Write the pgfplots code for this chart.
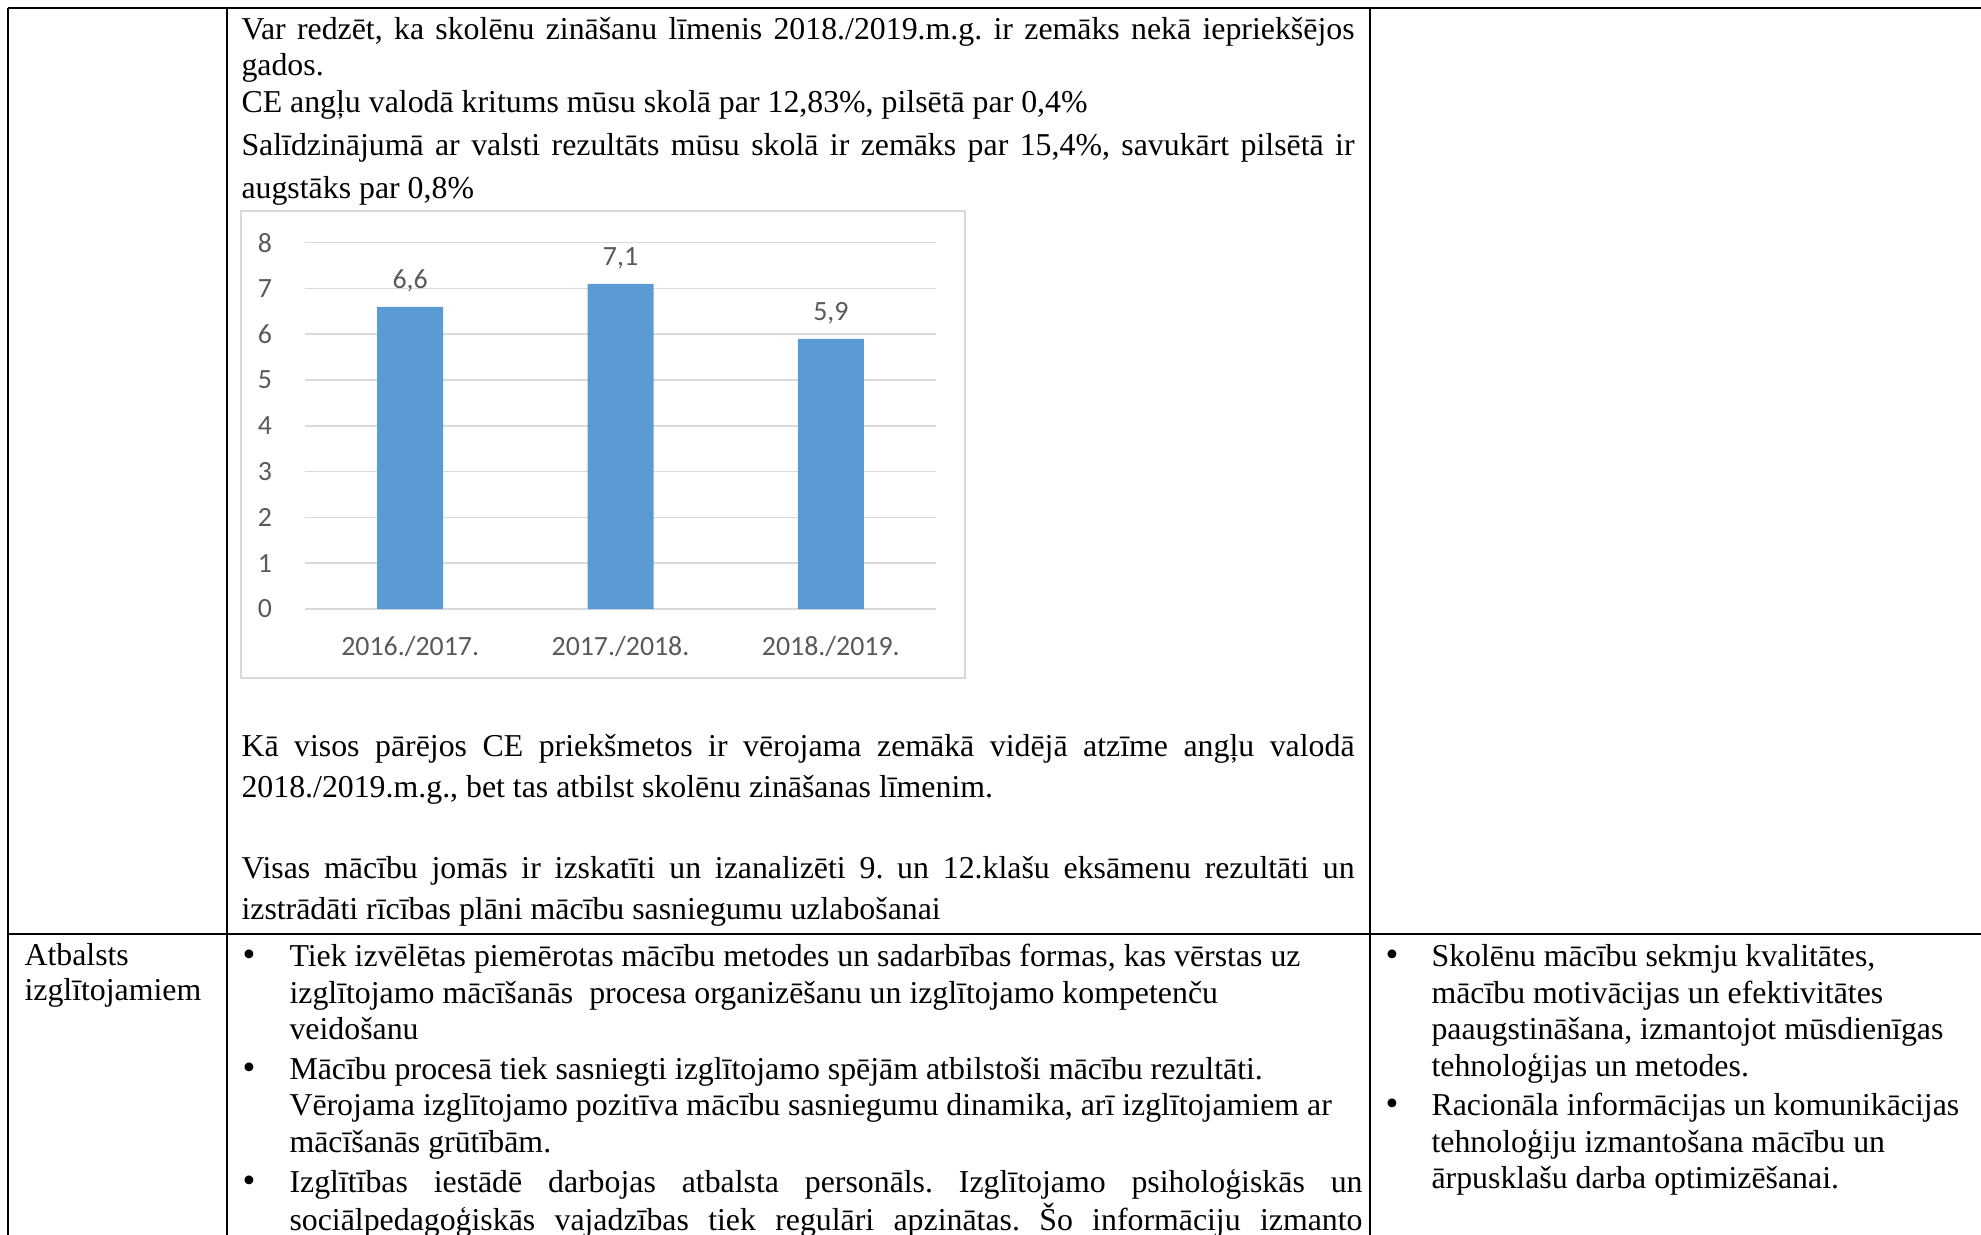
\documentclass[border=0pt]{standalone}
\usepackage{fontspec}
\setmainfont{Liberation Serif}
\newfontfamily\calibri{Carlito}
\usepackage{pgfplots}
\pgfplotsset{compat=1.18}
\definecolor{barblue}{HTML}{5B9BD5}
\definecolor{txtgray}{HTML}{595959}
\definecolor{gridgray}{HTML}{D9D9D9}
\newcommand{\tl}[3]{\node[anchor=base west,inner sep=0pt] at (#1,#2+3) {#3};}
\newcommand{\jl}[4]{\node[anchor=base west,inner sep=0pt] at (#1,#2+3) {\makebox[#3][s]{#4}};}
\newcommand{\bu}[2]{\node[anchor=base west,inner sep=0pt] at (#1,#2+3) {\scalebox{1.15}{\textbullet}};}
\frenchspacing
\begin{document}
\fontsize{12}{13.8}\selectfont
\begin{tikzpicture}
\begin{scope}[x=0.377pt,y=-0.377pt]
\path[use as bounding box] (0,0) rectangle (1981,1234);
\clip (0,0) rectangle (1981,1234);
% table rules
\draw[line width=2.5*0.377pt] (8,8) -- (1981,8);
\draw[line width=2.5*0.377pt] (8,934) -- (1981,934);
\draw[line width=2.5*0.377pt] (8,8) -- (8,1240);
\draw[line width=2.5*0.377pt] (227,8) -- (227,1240);
\draw[line width=2.5*0.377pt] (1370,8) -- (1370,1240);
% paragraph 1
\jl{241}{36}{419.6pt}{Var redzēt, ka skolēnu zināšanu līmenis 2018./2019.m.g. ir zemāks nekā iepriekšējos}
\tl{241}{72}{gados.}
\tl{241}{109}{CE angļu valodā kritums mūsu skolā par 12,83\%, pilsētā par 0,4\%}
\jl{241}{152}{419.6pt}{Salīdzinājumā ar valsti rezultāts mūsu skolā ir zemāks par 15,4\%, savukārt pilsētā ir}
\tl{241}{195}{augstāks par 0,8\%}
% paragraph 2
\jl{241}{753}{419.6pt}{Kā visos pārējos CE priekšmetos ir vērojama zemākā vidējā atzīme angļu valodā}
\tl{241}{794}{2018./2019.m.g., bet tas atbilst skolēnu zināšanas līmenim.}
\jl{241}{875}{419.6pt}{Visas mācību jomās ir izskatīti un izanalizēti 9. un 12.klašu eksāmenu rezultāti un}
\tl{241}{916}{izstrādāti rīcības plāni mācību sasniegumu uzlabošanai}
% column 1
\tl{24}{962}{Atbalsts}
\tl{24}{997}{izglītojamiem}
% column 2 bullets
\bu{242}{963}
\tl{289}{963}{Tiek izvēlētas piemērotas mācību metodes un sadarbības formas, kas vērstas uz}
\tl{289}{1000}{izglītojamo mācīšanās\ \ procesa organizēšanu un izglītojamo kompetenču}
\tl{289}{1036}{veidošanu}
\bu{242}{1076}
\tl{289}{1076}{Mācību procesā tiek sasniegti izglītojamo spējām atbilstoši mācību rezultāti.}
\tl{289}{1112}{Vērojama izglītojamo pozitīva mācību sasniegumu dinamika, arī izglītojamiem ar}
\tl{289}{1149}{mācīšanās grūtībām.}
\bu{242}{1189}
\jl{289}{1189}{404.5pt}{Izglītības iestādē darbojas atbalsta personāls. Izglītojamo psiholoģiskās un}
\jl{289}{1227}{404.5pt}{sociālpedagoģiskās vajadzības tiek regulāri apzinātas. Šo informāciju izmanto}
% column 3
\bu{1385}{963}
\tl{1431}{963}{Skolēnu mācību sekmju kvalitātes,}
\tl{1431}{1000}{mācību motivācijas un efektivitātes}
\tl{1431}{1036}{paaugstināšana, izmantojot mūsdienīgas}
\tl{1431}{1073}{tehnoloģijas un metodes.}
\bu{1385}{1112}
\tl{1431}{1112}{Racionāla informācijas un komunikācijas}
\tl{1431}{1149}{tehnoloģiju izmantošana mācību un}
\tl{1431}{1185}{ārpusklašu darba optimizēšanai.}
% chart frame
\draw[gridgray, line width=2*0.377pt] (241,211) rectangle (965,678);
\end{scope}
\begin{axis}[
  at={({305*0.377pt},{-609*0.377pt})}, anchor=south west,
  scale only axis, width={631*0.377pt}, height={366.4*0.377pt},
  xmin=-0.5, xmax=2.5, ymin=0, ymax=8,
  enlargelimits=false,
  ybar, bar width={66*0.377pt},
  axis line style={draw=none}, tick style={draw=none},
  ymajorgrids, grid style={gridgray, line width=0.65pt},
  xtick={0,1,2},
  xticklabels={2016./2017.,2017./2018.,2018./2019.},
  ytick={0,1,2,3,4,5,6,7,8},
  /pgf/number format/assume math mode=true,
  tick label style={font=\calibri\fontsize{10.5}{12}\selectfont, text=txtgray},
  yticklabel shift=8.2pt, xticklabel shift=1.8pt,
  nodes near coords={\pgfmathprintnumber[fixed,fixed zerofill,precision=1,use comma,assume math mode=true]{\pgfplotspointmeta}},
  nodes near coords style={font=\calibri\fontsize{10.5}{12}\selectfont, text=txtgray, anchor=center, yshift=9.7pt},
]
\addplot[fill=barblue, draw=none] coordinates {(0,6.6) (1,7.1) (2,5.9)};
\end{axis}
\end{tikzpicture}
\end{document}
